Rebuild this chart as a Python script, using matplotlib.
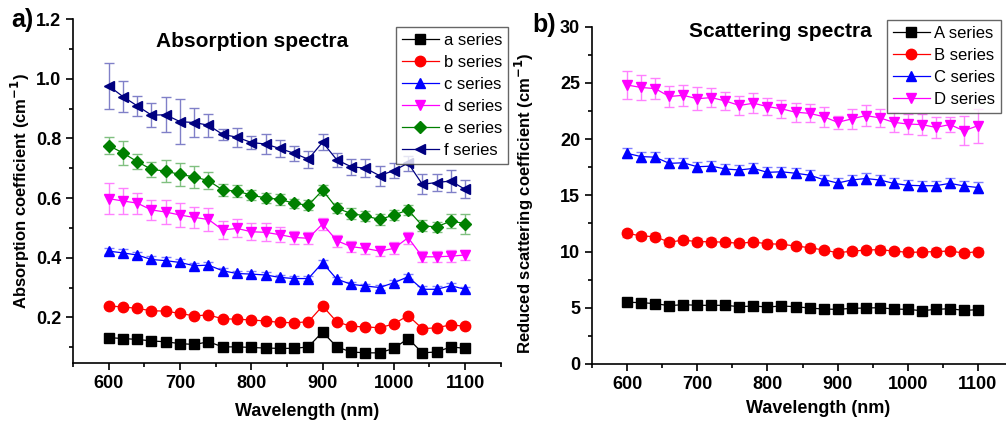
import matplotlib
matplotlib.use('Agg')
import matplotlib.pyplot as plt
from matplotlib.ticker import MultipleLocator

plt.rcParams['font.family'] = ['Liberation Sans', 'DejaVu Sans']

wavelength = list(range(600, 1101, 20))

# absorption spectra (cm^-1)
abs_a = [0.132, 0.129, 0.126, 0.121, 0.118, 0.112, 0.109, 0.118, 0.101, 0.101, 0.099, 0.097, 0.096,
         0.096, 0.101, 0.151, 0.101, 0.084, 0.081, 0.081, 0.096, 0.129, 0.081, 0.084, 0.101, 0.096]
abs_b = [0.238, 0.235, 0.230, 0.222, 0.221, 0.213, 0.205, 0.208, 0.195, 0.194, 0.191, 0.188, 0.183,
         0.182, 0.185, 0.238, 0.185, 0.170, 0.168, 0.165, 0.178, 0.206, 0.162, 0.165, 0.175, 0.170]
abs_c = [0.422, 0.416, 0.409, 0.394, 0.390, 0.384, 0.373, 0.375, 0.356, 0.347, 0.345, 0.342, 0.334,
         0.330, 0.330, 0.383, 0.328, 0.311, 0.305, 0.300, 0.316, 0.336, 0.294, 0.294, 0.306, 0.294]
abs_d = [0.598, 0.590, 0.583, 0.560, 0.553, 0.543, 0.535, 0.528, 0.493, 0.498, 0.487, 0.485, 0.477,
         0.468, 0.465, 0.513, 0.457, 0.437, 0.431, 0.422, 0.431, 0.467, 0.403, 0.403, 0.405, 0.409]
abs_e = [0.776, 0.751, 0.722, 0.696, 0.690, 0.679, 0.671, 0.658, 0.627, 0.623, 0.610, 0.600, 0.596,
         0.582, 0.576, 0.626, 0.566, 0.548, 0.540, 0.528, 0.543, 0.560, 0.507, 0.503, 0.523, 0.514]
abs_f = [0.976, 0.940, 0.909, 0.878, 0.879, 0.856, 0.853, 0.844, 0.813, 0.804, 0.786, 0.781, 0.766,
         0.750, 0.730, 0.787, 0.728, 0.705, 0.700, 0.675, 0.692, 0.717, 0.646, 0.652, 0.657, 0.629]

abs_a_err = [0.004] * 26
abs_b_err = [0.005] * 26
abs_c_err = [0.010, 0.012, 0.010, 0.010, 0.012, 0.012, 0.010, 0.010, 0.010, 0.010, 0.010, 0.010, 0.008,
             0.008, 0.008, 0.010, 0.008, 0.008, 0.008, 0.008, 0.008, 0.008, 0.010, 0.010, 0.010, 0.008]
abs_d_err = [0.051, 0.042, 0.035, 0.035, 0.040, 0.040, 0.035, 0.040, 0.030, 0.030, 0.028, 0.030, 0.025,
             0.022, 0.020, 0.020, 0.020, 0.018, 0.018, 0.018, 0.020, 0.020, 0.018, 0.018, 0.020, 0.018]
abs_e_err = [0.029, 0.041, 0.025, 0.024, 0.036, 0.039, 0.037, 0.029, 0.020, 0.020, 0.017, 0.018, 0.019,
             0.015, 0.016, 0.016, 0.017, 0.017, 0.018, 0.018, 0.018, 0.018, 0.018, 0.018, 0.022, 0.033]
abs_f_err = [0.078, 0.053, 0.033, 0.039, 0.059, 0.075, 0.049, 0.038, 0.017, 0.032, 0.022, 0.032, 0.028,
             0.026, 0.028, 0.027, 0.023, 0.027, 0.030, 0.034, 0.025, 0.025, 0.033, 0.027, 0.036, 0.030]

# reduced scattering spectra (cm^-1)
sca_A = [5.49, 5.46, 5.37, 5.19, 5.28, 5.22, 5.22, 5.22, 5.10, 5.16, 5.07, 5.16, 5.10,
         4.98, 4.89, 4.86, 4.95, 4.98, 5.01, 4.89, 4.86, 4.74, 4.86, 4.92, 4.77, 4.83]
sca_B = [11.63, 11.39, 11.33, 10.83, 11.03, 10.88, 10.88, 10.83, 10.74, 10.85, 10.70, 10.65, 10.50,
         10.35, 10.14, 9.90, 10.03, 10.14, 10.17, 10.05, 9.93, 9.96, 10.00, 10.05, 9.87, 10.00]
sca_C = [18.74, 18.45, 18.40, 17.85, 17.90, 17.55, 17.60, 17.35, 17.26, 17.40, 17.05, 17.10, 16.97,
         16.80, 16.40, 16.10, 16.37, 16.50, 16.37, 16.07, 15.90, 15.86, 15.86, 16.07, 15.84, 15.70]
sca_D = [24.82, 24.60, 24.50, 23.80, 23.90, 23.60, 23.70, 23.40, 23.00, 23.20, 22.90, 22.70, 22.40,
         22.30, 22.00, 21.50, 21.80, 22.10, 21.90, 21.50, 21.35, 21.30, 21.05, 21.30, 20.75, 21.20]

sca_A_err = [0.15] * 26
sca_B_err = [0.30] * 26
sca_C_err = [0.45] * 26
sca_D_err = [1.28, 1.10, 0.95, 0.90, 0.93, 1.00, 0.86, 0.80, 0.85, 0.90, 0.75, 0.80, 0.85,
             0.80, 0.90, 0.60, 0.85, 0.93, 0.80, 0.90, 0.90, 0.90, 0.95, 0.70, 1.30, 1.50]

abs_series = [('a series', abs_a, abs_a_err), ('b series', abs_b, abs_b_err),
              ('c series', abs_c, abs_c_err), ('d series', abs_d, abs_d_err),
              ('e series', abs_e, abs_e_err), ('f series', abs_f, abs_f_err)]
sca_series = [('A series', sca_A, sca_A_err), ('B series', sca_B, sca_B_err),
              ('C series', sca_C, sca_C_err), ('D series', sca_D, sca_D_err)]

colors = ['#000000', '#ff0000', '#0000ff', '#ff00ff', '#008000', '#000080']
light = ['#808080', '#ff8080', '#8080ff', '#ff80ff', '#80c080', '#8080c8']
markers = ['s', 'o', '^', 'v', 'D', '<']
msizes = [6.5, 7.5, 7.5, 7.5, 6.5, 7.5]

fig = plt.figure(figsize=(10.06, 4.21), dpi=100)
ax1 = fig.add_axes([0.0726, 0.1378, 0.4252, 0.817])
ax2 = fig.add_axes([0.5885, 0.1354, 0.4185, 0.801])


def draw(ax, series):
    handles = []
    for i, (name, vals, errs) in enumerate(series):
        cont = ax.errorbar(wavelength, vals, yerr=errs, color=colors[i], ecolor=light[i],
                           elinewidth=1, capsize=3.5, capthick=1, lw=0.9,
                           marker=markers[i], ms=msizes[i], mec=colors[i], mfc=colors[i])
        handles.append(cont.lines[0])
    return handles


h1 = draw(ax1, abs_series)
h2 = draw(ax2, sca_series)

for ax in (ax1, ax2):
    ax.spines['top'].set_visible(False)
    ax.spines['right'].set_visible(False)
    ax.spines['left'].set_linewidth(1.2)
    ax.spines['bottom'].set_linewidth(1.2)
    ax.set_xlim(550, 1150)
    ax.set_xticks([600, 700, 800, 900, 1000, 1100])
    ax.xaxis.set_minor_locator(MultipleLocator(50))
    ax.tick_params(which='major', direction='out', length=5, width=1.2, labelsize=13)
    ax.tick_params(which='minor', direction='out', length=3, width=1.2)
    ax.set_xlabel('Wavelength (nm)', fontsize=13, fontweight='bold', va='center')

ax1.set_ylim(0.047, 1.2)
ax1.set_yticks([0.2, 0.4, 0.6, 0.8, 1.0, 1.2])
ax1.yaxis.set_minor_locator(MultipleLocator(0.1))
ax1.set_ylabel('Absorption coefficient (cm$^{\\mathbf{-1}}$)', fontsize=12, fontweight='bold', va='center')
ax1.yaxis.set_label_coords(-0.124, 0.5)
ax1.xaxis.set_label_coords(0.547, -0.14)

ax2.set_ylim(0, 30)
ax2.yaxis.set_major_locator(MultipleLocator(5))
ax2.yaxis.set_minor_locator(MultipleLocator(2.5))
ax2.set_ylabel('Reduced scattering coefficient (cm$^{\\mathbf{-1}}$)', fontsize=12, fontweight='bold',
               va='center')
ax2.yaxis.set_label_coords(-0.1615, 0.477)
ax2.xaxis.set_label_coords(0.537, -0.133)

for ax in (ax1, ax2):
    for lab in ax.get_xticklabels() + ax.get_yticklabels():
        lab.set_fontweight('bold')

ax1.text(0.418, 0.936, 'Absorption spectra', transform=ax1.transAxes, ha='center', va='center',
         fontsize=15, fontweight='bold')
ax2.text(0.4466, 0.987, 'Scattering spectra', transform=ax2.transAxes, ha='center', va='center',
         fontsize=15, fontweight='bold')
fig.text(0.011, 0.952, 'a)', fontsize=18, fontweight='bold', va='center', ha='left')
fig.text(0.529, 0.940, 'b)', fontsize=18, fontweight='bold', va='center', ha='left')

for ax, hs, series, anchor in ((ax1, h1, abs_series, (396 / 1006, 1 - 27 / 421)),
                               (ax2, h2, sca_series, (887 / 1006, 1 - 20 / 421))):
    leg = ax.legend(hs, [s[0] for s in series], loc='upper left', bbox_to_anchor=anchor,
                    bbox_transform=fig.transFigure,
                    fontsize=12, frameon=True, fancybox=False, handlelength=2.2,
                    handletextpad=0.3, labelspacing=0.42, borderpad=0.35, borderaxespad=0)
    leg.get_frame().set_edgecolor('#404040')
    leg.get_frame().set_linewidth(1.0)

fig.savefig('out.png', dpi=100)
